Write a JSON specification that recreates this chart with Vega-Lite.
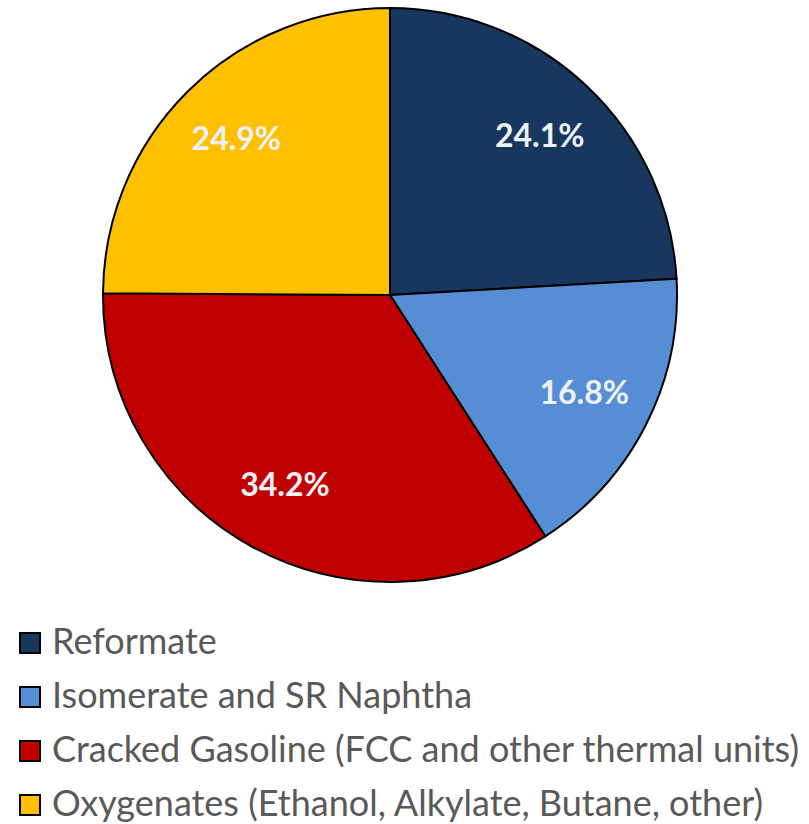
{
  "$schema": "https://vega.github.io/schema/vega-lite/v6.json",
  "autosize": {"type": "none"},
  "width": 780,
  "height": 590,
  "padding": {"left": 0, "top": 0, "right": 29, "bottom": 234},
  "background": "white",
  "config": {"view": {"stroke": null}},
  "data": {
    "values": [
      {"source": "Reformate", "share": 24.1, "label": "24.1%", "order": 1},
      {"source": "Isomerate and SR Naphtha", "share": 16.8, "label": "16.8%", "order": 2},
      {"source": "Cracked Gasoline (FCC and other thermal units)", "share": 34.2, "label": "34.2%", "order": 3},
      {"source": "Oxygenates (Ethanol, Alkylate, Butane, other)", "share": 24.9, "label": "24.9%", "order": 4}
    ]
  },
  "encoding": {
    "theta": {"field": "share", "type": "quantitative", "stack": true},
    "order": {"field": "order", "type": "quantitative"},
    "color": {
      "field": "source",
      "type": "nominal",
      "sort": ["Reformate", "Isomerate and SR Naphtha", "Cracked Gasoline (FCC and other thermal units)", "Oxygenates (Ethanol, Alkylate, Butane, other)"],
      "scale": {
        "domain": ["Reformate", "Isomerate and SR Naphtha", "Cracked Gasoline (FCC and other thermal units)", "Oxygenates (Ethanol, Alkylate, Butane, other)"],
        "range": ["#17375e", "#558ed5", "#c00000", "#ffc000"]
      },
      "legend": {
        "title": null,
        "orient": "none",
        "legendX": 12,
        "legendY": 625,
        "symbolType": "square",
        "symbolSize": 400,
        "symbolStrokeColor": "black",
        "symbolStrokeWidth": 2,
        "symbolOpacity": 1,
        "labelFont": "Lato",
        "labelFontSize": 36,
        "labelColor": "#595959",
        "labelLimit": 0,
        "rowPadding": 18,
        "labelOffset": 4
      }
    }
  },
  "layer": [
    {
      "mark": {"type": "arc", "outerRadius": 287, "stroke": "black", "strokeWidth": 2}
    },
    {
      "mark": {"type": "text", "radius": 218, "font": "Lato", "fontWeight": "bold", "fontSize": 32, "fill": "#eef2f8"},
      "encoding": {
        "text": {"field": "label"},
        "color": {"value": "#eef2f8"}
      }
    }
  ]
}
